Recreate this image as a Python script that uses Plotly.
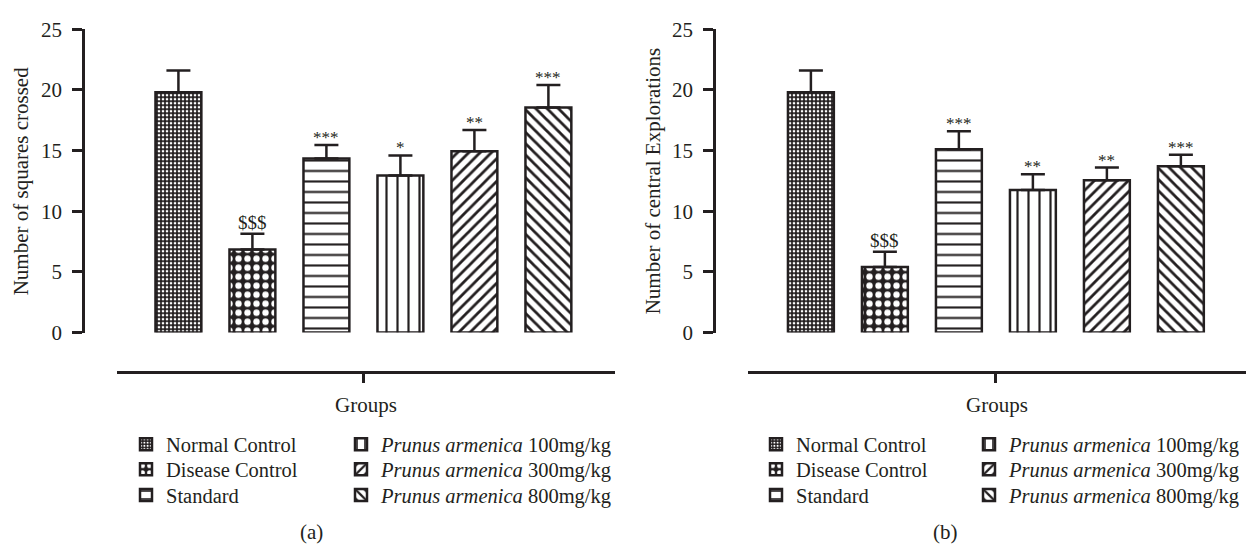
import plotly.graph_objects as go

groups = ["Normal Control", "Disease Control", "Standard",
          "<i>Prunus armenica</i> 100mg/kg", "<i>Prunus armenica</i> 300mg/kg",
          "<i>Prunus armenica</i> 800mg/kg"]

squares_mean = [19.8, 6.85, 14.35, 12.95, 14.95, 18.55]
squares_err = [1.8, 1.3, 1.1, 1.65, 1.75, 1.85]
squares_sig = ["", "$$$", "***", "*", "**", "***"]

central_mean = [19.8, 5.4, 15.1, 11.75, 12.55, 13.7]
central_err = [1.8, 1.25, 1.5, 1.3, 1.05, 0.95]
central_sig = ["", "$$$", "***", "**", "**", "***"]

y_ticks = [0, 5, 10, 15, 20, 25]

INK = "#231f20"
FONT = "Liberation Serif"

patterns = [
    dict(shape=".", bgcolor=INK, fgcolor="white", size=4, solidity=0.35, fillmode="replace"),
    dict(shape=".", bgcolor=INK, fgcolor="white", size=9, solidity=0.4, fillmode="replace"),
    dict(shape="-", bgcolor="white", fgcolor=INK, size=10.5, solidity=0.2, fillmode="replace"),
    dict(shape="|", bgcolor="white", fgcolor=INK, size=11, solidity=0.2, fillmode="replace"),
    dict(shape="/", bgcolor="white", fgcolor=INK, size=8, solidity=0.35, fillmode="replace"),
    dict(shape="\\", bgcolor="white", fgcolor=INK, size=8, solidity=0.35, fillmode="replace"),
]

W, H = 1252, 555
def px(x):
    return x / W
def py(y):
    return (H - y) / H

fig = go.Figure()

panels = [
    dict(means=squares_mean, errs=squares_err, sig=squares_sig, xa="x", ya="y",
         cols=(126, 341), first=1),
    dict(means=central_mean, errs=central_err, sig=central_sig, xa="x2", ya="y2",
         cols=(756, 969), first=7),
]
rows = (452, 478, 505)

annotations = []
legends = {}
legend_font = dict(family=FONT, size=20.5, color=INK)
for p in panels:
    for i, g in enumerate(groups):
        n = p["first"] + i
        lname = "legend" if n == 1 else f"legend{n}"
        legends[lname] = dict(x=px(p["cols"][i // 3]), y=py(rows[i % 3]),
                              xanchor="left", yanchor="middle",
                              bgcolor="rgba(0,0,0,0)", font=legend_font,
                              itemclick=False, itemdoubleclick=False)
        fig.add_trace(go.Bar(
            x=[i], y=[p["means"][i]], width=0.62, name=g,
            xaxis=p["xa"], yaxis=p["ya"], legend=lname,
            marker=dict(color="white", pattern=patterns[i],
                        line=dict(color=INK, width=2.5)),
            error_y=dict(type="data", array=[p["errs"][i]], arrayminus=[0],
                         symmetric=False, color=INK, thickness=2.5, width=12),
            hoverinfo="skip",
        ))
        if p["sig"][i]:
            is_dollar = p["sig"][i].startswith("$")
            annotations.append(dict(
                x=i, y=p["means"][i] + p["errs"][i], xref=p["xa"], yref=p["ya"],
                text=p["sig"][i], showarrow=False, xanchor="center", yanchor="bottom",
                yshift=-1 if is_dollar else -4,
                font=dict(family=FONT, size=19 if is_dollar else 17, color=INK)))

axis_common = dict(showgrid=False, zeroline=False, showline=True, linecolor=INK,
                   linewidth=2.5, ticks="outside", tickcolor=INK, tickwidth=2.5,
                   ticklen=10, tickfont=dict(family=FONT, size=21, color=INK))

ydom = [py(335), py(18)]
line_y = py(376)
fig.update_layout(
    xaxis=dict(domain=[px(117), px(615)], range=[-0.83, 5.9], anchor="free",
               position=line_y, tickvals=[2.5], ticktext=[""], **axis_common),
    yaxis=dict(domain=ydom, range=[0, 25], anchor="free", position=px(83),
               tickvals=y_ticks, ticklabelstandoff=6, **axis_common),
    xaxis2=dict(domain=[px(748), px(1246)], range=[-0.85, 5.88], anchor="free",
                position=line_y, tickvals=[2.5], ticktext=[""], **axis_common),
    yaxis2=dict(domain=ydom, range=[0, 25], anchor="free", position=px(714),
                tickvals=y_ticks, ticklabelstandoff=6, **axis_common),
    **legends,
)

title_font = dict(family=FONT, size=21, color=INK)
annotations += [
    dict(x=px(21), y=py(177), xref="paper", yref="paper", text="Number of squares crossed",
         textangle=-90, showarrow=False, xanchor="center", yanchor="middle", font=title_font),
    dict(x=px(653), y=py(177), xref="paper", yref="paper", text="Number of central Explorations",
         textangle=-90, showarrow=False, xanchor="center", yanchor="middle", font=title_font),
    dict(x=px(366), y=py(411), xref="paper", yref="paper", text="Groups",
         showarrow=False, xanchor="center", yanchor="middle", font=title_font),
    dict(x=px(997), y=py(411), xref="paper", yref="paper", text="Groups",
         showarrow=False, xanchor="center", yanchor="middle", font=title_font),
    dict(x=px(311), y=py(543), xref="paper", yref="paper", text="(a)",
         showarrow=False, xanchor="center", yanchor="middle", font=title_font),
    dict(x=px(945), y=py(543), xref="paper", yref="paper", text="(b)",
         showarrow=False, xanchor="center", yanchor="middle", font=title_font),
]

fig.update_layout(
    width=W, height=H, margin=dict(l=0, r=0, t=0, b=0),
    paper_bgcolor="white", plot_bgcolor="white",
    barmode="overlay", showlegend=True, annotations=annotations,
)

fig.write_html("out.html", config={"displayModeBar": False})
